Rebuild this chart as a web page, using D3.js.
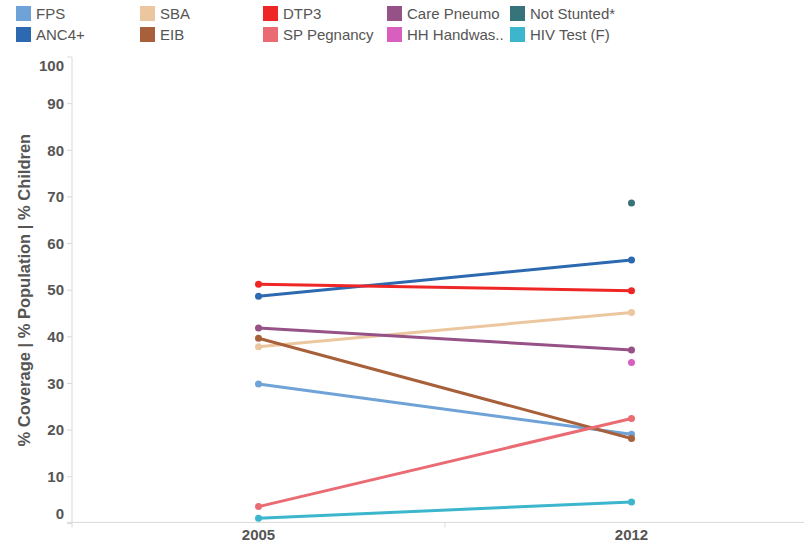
<!DOCTYPE html>
<html>
<head>
<meta charset="utf-8">
<script src="https://cdn.jsdelivr.net/npm/d3@7"></script>
<style>
  body { margin: 0; background: #fff; font-family: Arial, "Liberation Sans", sans-serif; }
  svg { display: block; }
</style>
</head>
<body>
<div id="chart"></div>
<script>
// Survey years (x categories)
const years = ['2005', '2012'];

// Indicator names, legend order (column-major, 2 rows)
const series = ['FPS', 'ANC4+', 'SBA', 'EIB', 'DTP3', 'SP Pegnancy', 'Care Pneumo', 'HH Handwas..', 'Not Stunted*', 'HIV Test (F)'];
const colors = ['#6fa3d8', '#2c69b0', '#ecc69e', '#a7603a', '#ee2626', '#ea6b73', '#965187', '#d95fbf', '#36737a', '#3cb6cc'];

// Values per year (null = no data)
const values2005 = [29.9, 48.7, 37.9, 39.7, 51.3, 3.6, 41.9, null, null, 1.1];
const values2012 = [19.1, 56.5, 45.2, 18.2, 49.9, 22.5, 37.2, 34.5, 68.7, 4.6];

const yTicks = [0, 10, 20, 30, 40, 50, 60, 70, 80, 90, 100];

const width = 804, height = 546;
const margin = { left: 72, top: 57, bottom: 23 };

const svg = d3.select('#chart').append('svg')
    .attr('width', width)
    .attr('height', height);

const x = d3.scaleBand()
    .domain(years)
    .range([margin.left, 818]);

const y = d3.scaleLinear()
    .domain([0, 100])
    .range([523.4, margin.top]);

const textColor = '#555';
const axisColor = '#d9d9d9';

// ===== Axes =====
const yAxis = svg.append('g');
yAxis.append('line')
    .attr('x1', margin.left).attr('x2', margin.left)
    .attr('y1', y(100)).attr('y2', y(0))
    .attr('stroke', axisColor);
yAxis.selectAll('line.tick')
    .data(yTicks)
    .join('line')
    .attr('class', 'tick')
    .attr('x1', margin.left - 5).attr('x2', margin.left)
    .attr('y1', d => y(d)).attr('y2', d => y(d))
    .attr('stroke', axisColor);
yAxis.selectAll('text')
    .data(yTicks)
    .join('text')
    // end labels are pushed inward, like the original tool does
    .attr('x', margin.left - 8)
    .attr('y', d => y(d) + (d === 100 ? 9 : d === 0 ? -10 : 0))
    .attr('dy', '0.35em')
    .attr('text-anchor', 'end')
    .attr('font-size', 15)
    .attr('font-weight', 'bold')
    .attr('fill', textColor)
    .text(d => d);

svg.append('text')
    .attr('transform', `translate(30,${(y(0) + y(100)) / 2}) rotate(-90)`)
    .attr('text-anchor', 'middle')
    .attr('font-size', 16.5)
    .attr('font-weight', 'bold')
    .attr('fill', textColor)
    .text('% Coverage | % Population | % Children');

const xAxis = svg.append('g');
xAxis.append('line')
    .attr('x1', margin.left - 5).attr('x2', width)
    .attr('y1', y(0) - 1).attr('y2', y(0) - 1)
    .attr('stroke', axisColor);
const bandEdges = [x(years[0]), x(years[1])];
xAxis.selectAll('line.tick')
    .data(bandEdges)
    .join('line')
    .attr('class', 'tick')
    .attr('x1', d => d).attr('x2', d => d)
    .attr('y1', y(0) - 1).attr('y2', y(0) + 4)
    .attr('stroke', axisColor);
xAxis.selectAll('text')
    .data(years)
    .join('text')
    .attr('x', d => x(d) + x.bandwidth() / 2)
    .attr('y', 540)
    .attr('text-anchor', 'middle')
    .attr('font-size', 15)
    .attr('font-weight', 'bold')
    .attr('fill', textColor)
    .text(d => d);

// ===== Lines and points =====
const cx = yr => x(yr) + x.bandwidth() / 2;
const rows = series.map((name, i) => ({
    name,
    color: colors[i],
    points: [
        { year: years[0], value: values2005[i] },
        { year: years[1], value: values2012[i] }
    ].filter(p => p.value !== null)
}));

const line = d3.line()
    .x(p => cx(p.year))
    .y(p => y(p.value));

const plot = svg.append('g');
plot.selectAll('path.series')
    .data(rows.filter(r => r.points.length > 1))
    .join('path')
    .attr('class', 'series')
    .attr('d', r => line(r.points))
    .attr('fill', 'none')
    .attr('stroke', r => r.color)
    .attr('stroke-width', 3);

plot.selectAll('g.dots')
    .data(rows)
    .join('g')
    .attr('class', 'dots')
    .attr('fill', r => r.color)
    .selectAll('circle')
    .data(r => r.points)
    .join('circle')
    .attr('cx', p => cx(p.year))
    .attr('cy', p => y(p.value))
    .attr('r', 3.5);

// ===== Legend =====
const legendCols = [16, 140, 263, 387, 510];
const legend = svg.append('g');
const items = legend.selectAll('g')
    .data(rows)
    .join('g')
    .attr('transform', (d, i) => `translate(${legendCols[Math.floor(i / 2)]},${i % 2 === 0 ? 6 : 27})`);
items.append('rect')
    .attr('width', 15).attr('height', 15)
    .attr('fill', d => d.color);
items.append('text')
    .attr('x', 20)
    .attr('y', 7.5)
    .attr('dy', '0.35em')
    .attr('font-size', 15)
    .attr('fill', textColor)
    .text(d => d.name);
</script>
</body>
</html>
